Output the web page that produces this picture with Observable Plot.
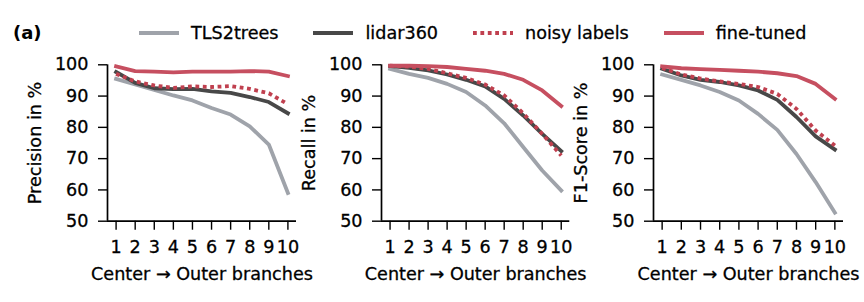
<!DOCTYPE html>
<html>
<head>
<meta charset="utf-8">
<script src="https://cdn.jsdelivr.net/npm/d3@7"></script>
<script src="https://cdn.jsdelivr.net/npm/@observablehq/plot@0.6"></script>
<style>
  html, body { margin: 0; padding: 0; background: #fff; overflow: hidden; }
  #wrap { position: relative; width: 864px; height: 302px;
          font-family: "DejaVu Sans", sans-serif; color: #000; }
  #tag { position: absolute; left: 13px; top: 22px; line-height: 22px; font-size: 18px; font-weight: bold; }
  #legend { position: absolute; left: 139px; top: 22px; height: 22px; display: flex; align-items: center; gap: 35px; font-size: 17.6px; -webkit-text-stroke: 0.3px #000; }
  .item { display: flex; align-items: center; }
  .item svg { margin-right: 12px; display: block; }
  #wrap svg text { stroke: #000; stroke-width: 0.3px; }
</style>
</head>
<body>
<div id="wrap">
  <div id="tag">(a)</div>
  <div id="legend"></div>
</div>
<script>
const branches = [1, 2, 3, 4, 5, 6, 7, 8, 9, 10];
const yTicks = [50, 60, 70, 80, 90, 100];
const seriesNames = ["TLS2trees", "lidar360", "noisy labels", "fine-tuned"];
const seriesColors = ["#9fa3aa", "#484848", "#c0404f", "#c64f60"];
const dottedSeries = ["noisy labels"];
const metricLabels = ["Precision in %", "Recall in %", "F1-Score in %"];
const xLabel = "Center → Outer branches";

// Precision
const precisionTLS2trees  = [95.5, 93.7, 92.0, 90.2, 88.6, 86.2, 84.1, 80.3, 74.5, 59.0];
const precisionLidar360   = [97.7, 94.2, 92.5, 92.2, 92.3, 91.5, 91.0, 89.7, 88.1, 84.5];
const precisionNoisy      = [97.1, 94.7, 93.4, 92.6, 93.1, 92.9, 93.2, 92.3, 90.9, 87.4];
const precisionFineTuned  = [99.5, 98.0, 97.8, 97.6, 97.8, 97.8, 97.8, 98.0, 97.8, 96.4];
// Recall
const recallTLS2trees     = [98.7, 97.1, 95.8, 93.9, 91.3, 87.0, 81.3, 73.7, 66.2, 59.8];
const recallLidar360      = [99.6, 99.0, 98.2, 96.9, 95.2, 93.1, 89.1, 83.8, 77.9, 72.4];
const recallNoisy         = [99.7, 99.4, 98.7, 97.3, 95.8, 93.7, 90.2, 84.5, 77.9, 71.0];
const recallFineTuned     = [99.7, 99.7, 99.6, 99.3, 98.7, 98.1, 97.1, 95.2, 91.8, 86.8];
// F1-Score
const f1TLS2trees         = [96.9, 95.2, 93.4, 91.3, 88.6, 84.3, 79.2, 71.5, 62.5, 52.7];
const f1Lidar360          = [98.7, 96.6, 95.2, 94.5, 93.4, 91.8, 88.8, 83.3, 77.1, 72.9];
const f1Noisy             = [99.0, 96.9, 95.6, 94.7, 93.9, 92.9, 90.7, 85.9, 79.0, 74.2];
const f1FineTuned         = [99.5, 98.9, 98.6, 98.4, 98.1, 97.8, 97.3, 96.4, 93.9, 89.1];

const metrics = [
  [precisionTLS2trees, precisionLidar360, precisionNoisy, precisionFineTuned],
  [recallTLS2trees, recallLidar360, recallNoisy, recallFineTuned],
  [f1TLS2trees, f1Lidar360, f1Noisy, f1FineTuned]
];

// layout (pixels)
const axisLeft = [107, 380.7, 653];
const axisRight = [296, 569, 843];
const leftPad = 100, rightPad = 20;
const FS = 17.6;
const wrap = document.getElementById("wrap");

metrics.forEach((seriesArrays, i) => {
  const rows = [];
  seriesArrays.forEach((vals, j) => vals.forEach((v, k) => rows.push({series: seriesNames[j], x: branches[k], v})));
  const lineMarks = seriesNames.map(name => Plot.line(rows.filter(r => r.series === name), {
    x: "x", y: "v", stroke: "series", strokeWidth: 3.8,
    strokeLinecap: dottedSeries.includes(name) ? "butt" : "square",
    strokeLinejoin: "round",
    strokeDasharray: dottedSeries.includes(name) ? "3.8,3.6" : null
  }));
  const chart = Plot.plot({
    width: axisRight[i] - axisLeft[i] + leftPad + rightPad,
    height: 302,
    marginLeft: leftPad,
    marginRight: rightPad,
    marginTop: 64.3,
    marginBottom: 302 - 220.7,
    style: {background: "transparent", fontFamily: "DejaVu Sans", fontSize: FS + "px", color: "black", overflow: "visible", maxWidth: "none"},
    x: {domain: [0.55, 10.45]},
    y: {domain: [50, 100]},
    color: {domain: seriesNames, range: seriesColors},
    marks: [
      Plot.axisX(branches, {tickSize: 9, tickPadding: 10, fontSize: FS, strokeWidth: 1.4, label: null}),
      Plot.axisY(yTicks, {tickSize: 9, tickPadding: 10, fontSize: FS, strokeWidth: 1.4, label: null}),
      Plot.ruleY([50], {stroke: "black", strokeWidth: 1.7}),
      Plot.ruleX([0.55], {stroke: "black", strokeWidth: 1.7}),
      ...lineMarks,
      Plot.text([metricLabels[i]], {text: d => d, frameAnchor: "left", dx: -72, rotate: -90, textAnchor: "middle", lineAnchor: "middle", fontSize: FS, fill: "black"}),
      Plot.text([xLabel], {text: d => d, frameAnchor: "bottom", dy: 46, lineAnchor: "top", textAnchor: "middle", fontSize: FS, fill: "black"})
    ]
  });
  chart.style.position = "absolute";
  chart.style.left = (axisLeft[i] - leftPad) + "px";
  chart.style.top = "0px";
  wrap.appendChild(chart);
});

// legend
const legend = document.getElementById("legend");
seriesNames.forEach((name, j) => {
  const item = document.createElement("div");
  item.className = "item";
  const dotted = dottedSeries.includes(name);
  item.innerHTML = `<svg width="40" height="10"><line x1="0" x2="40" y1="5" y2="5" stroke="${seriesColors[j]}" stroke-width="3.8" ${dotted ? 'stroke-dasharray="3.8,3.6"' : ''}/></svg><span>${name}</span>`;
  legend.appendChild(item);
});
</script>
</body>
</html>
